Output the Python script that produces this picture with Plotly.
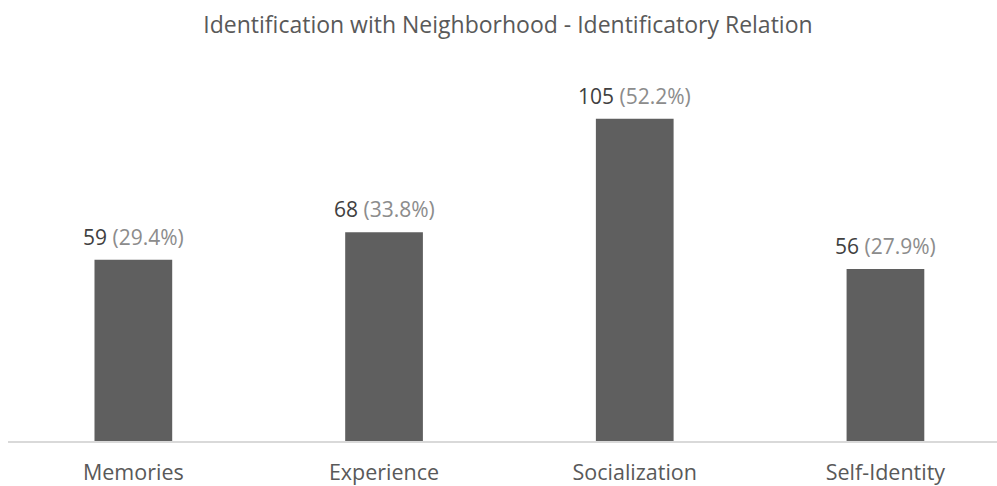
import plotly.graph_objects as go

categories = ["Memories", "Experience", "Socialization", "Self-Identity"]
counts = [59, 68, 105, 56]
percents = [29.4, 33.8, 52.2, 27.9]

bar_color = "#5f5f5f"
text_dark = "#404040"
text_light = "#8c8c8c"
font_family = "Open Sans, Liberation Sans, sans-serif"

fig = go.Figure()
fig.add_trace(go.Bar(
    x=categories,
    y=counts,
    marker=dict(color=bar_color, line=dict(width=0)),
    width=0.31,
    hoverinfo="skip",
))

# value labels: count in dark grey, share in lighter grey
for cat, n, p in zip(categories, counts, percents):
    fig.add_annotation(
        x=cat, y=n, xref="x", yref="y",
        text=f"<span style='color:{text_dark}'>{n}</span> "
             f"<span style='color:{text_light}'>({p}%)</span>",
        showarrow=False, yanchor="bottom", yshift=7,
        font=dict(family=font_family, size=21),
    )

fig.update_layout(
    width=997, height=486,
    margin=dict(l=8, r=0, t=60, b=43),
    paper_bgcolor="white", plot_bgcolor="white",
    title=dict(
        text="Identification with Neighborhood - Identificatory Relation",
        x=0.5095, xanchor="center", y=0.948, yanchor="middle",
        font=dict(family=font_family, size=23, color="#595959"),
    ),
    showlegend=False,
    xaxis=dict(
        range=[-0.5, 3.445],
        showline=True, linecolor="#d9d9d9", linewidth=1.5,
        showgrid=False, ticks="",
        ticklabelstandoff=11,
        tickfont=dict(family=font_family, size=21.5, color="#595959"),
    ),
    yaxis=dict(
        range=[0, 124.1],
        visible=False, showgrid=False, zeroline=False,
    ),
)

fig.write_html("out.html")
